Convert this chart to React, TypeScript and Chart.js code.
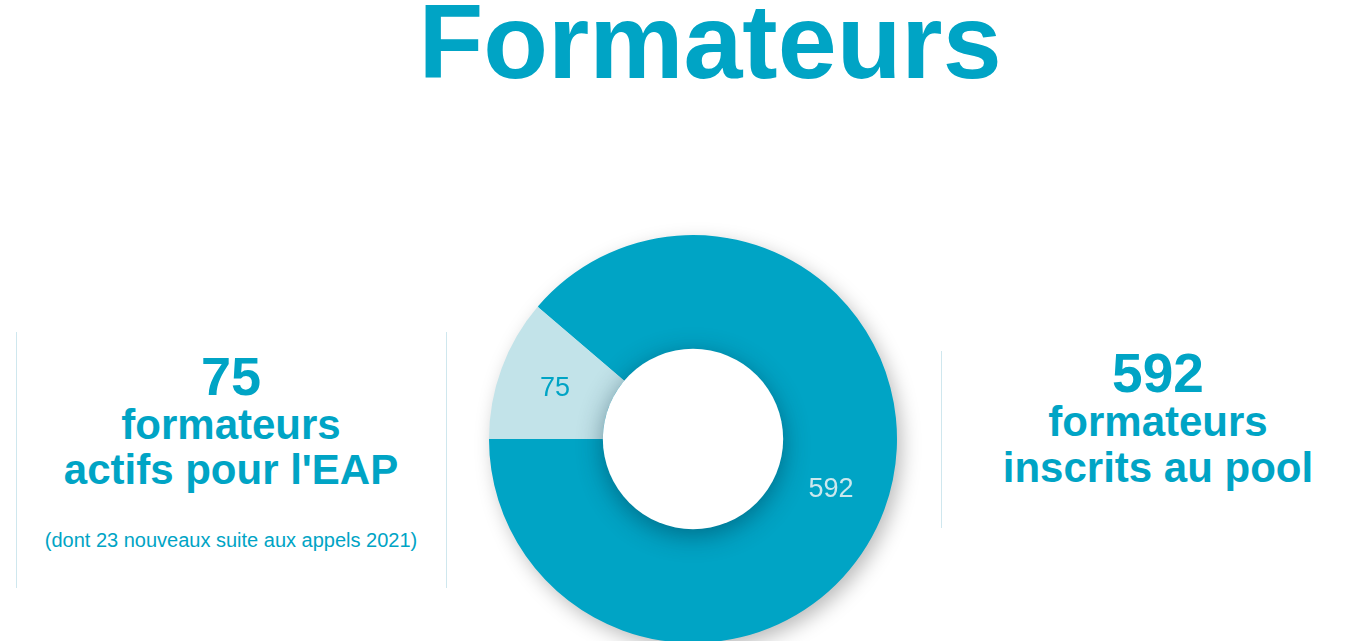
import React, { useEffect, useRef } from "react";
import { Chart, registerables } from "chart.js";

Chart.register(...registerables);

const categories = ["formateurs actifs pour l'EAP", "formateurs inscrits au pool"];
const values = [75, 592];
const sliceColors = ["#c2e3e9", "#00a4c5"];
const sliceLabelColors = ["#00a4c5", "#cbe8ee"];

const titleText = "Formateurs";
const leftLines = ["75", "formateurs", "actifs pour l'EAP"];
const leftNote = "(dont 23 nouveaux suite aux appels 2021)";
const rightLines = ["592", "formateurs", "inscrits au pool"];

const TEAL = "#00a4c5";
const FONT = "'Liberation Sans', Arial, Helvetica, sans-serif";

const ringPlugin = {
  id: "ringDecor",
  beforeDatasetsDraw(chart: any) {
    const meta = chart.getDatasetMeta(0);
    const arc = meta.data[0];
    if (!arc) return;
    const p = arc.getProps(["x", "y", "outerRadius"], true);
    const ctx = chart.ctx;
    ctx.save();
    ctx.shadowColor = "rgba(0,0,0,0.28)";
    ctx.shadowBlur = 20;
    ctx.shadowOffsetX = 5;
    ctx.shadowOffsetY = 7;
    ctx.beginPath();
    ctx.arc(p.x, p.y, p.outerRadius - 1, 0, Math.PI * 2);
    ctx.fillStyle = sliceColors[1];
    ctx.fill();
    ctx.restore();
  },
  afterDatasetsDraw(chart: any) {
    const meta = chart.getDatasetMeta(0);
    const arc0 = meta.data[0];
    if (!arc0) return;
    const p = arc0.getProps(["x", "y", "innerRadius"], true);
    const ctx = chart.ctx;
    ctx.save();
    ctx.shadowColor = "rgba(0,40,60,0.45)";
    ctx.shadowBlur = 26;
    ctx.shadowOffsetX = 0;
    ctx.shadowOffsetY = 6;
    ctx.beginPath();
    ctx.arc(p.x, p.y, p.innerRadius, 0, Math.PI * 2);
    ctx.fillStyle = "#ffffff";
    ctx.fill();
    ctx.restore();
    ctx.save();
    ctx.font = `27px ${FONT}`;
    ctx.textAlign = "center";
    ctx.textBaseline = "middle";
    meta.data.forEach((el: any, i: number) => {
      const pos = el.tooltipPosition(true);
      ctx.fillStyle = sliceLabelColors[i];
      ctx.fillText(String(values[i]), pos.x, pos.y);
    });
    ctx.restore();
  },
};

function TextLine(props: { text: string; cx: number; top: number; size: number; bold?: boolean; width: number }) {
  const { text, cx, top, size, bold, width } = props;
  return (
    <div
      style={{
        position: "absolute",
        left: cx - width / 2,
        top,
        width,
        textAlign: "center",
        fontFamily: FONT,
        fontSize: size,
        lineHeight: `${size}px`,
        fontWeight: bold ? 700 : 400,
        color: TEAL,
        whiteSpace: "nowrap",
      }}
    >
      {text}
    </div>
  );
}

export default function App() {
  const canvasRef = useRef<HTMLCanvasElement | null>(null);

  useEffect(() => {
    if (!canvasRef.current) return;
    const chart = new Chart(canvasRef.current, {
      type: "doughnut",
      data: {
        labels: categories,
        datasets: [
          {
            data: values,
            backgroundColor: sliceColors,
            borderWidth: 0,
            hoverOffset: 0,
            offset: 0,
          },
        ],
      },
      options: {
        responsive: false,
        animation: false,
        rotation: 270,
        cutout: "44.2%",
        layout: { padding: 36 },
        plugins: {
          legend: { display: false },
          tooltip: { enabled: false },
        },
        events: [],
      },
      plugins: [ringPlugin],
    });
    return () => chart.destroy();
  }, []);

  return (
    <div
      style={{
        position: "fixed",
        left: 0,
        top: 0,
        width: 1364,
        height: 641,
        overflow: "hidden",
        background: "#ffffff",
      }}
    >
      <TextLine text={titleText} cx={710} top={-12} size={106} bold width={800} />

      <div style={{ position: "absolute", left: 16, top: 332, width: 1, height: 256, background: "#cfe7ee" }} />
      <div style={{ position: "absolute", left: 446, top: 332, width: 1, height: 256, background: "#cfe7ee" }} />
      <div style={{ position: "absolute", left: 941, top: 351, width: 1, height: 177, background: "#cfe7ee" }} />

      <TextLine text={leftLines[0]} cx={231} top={349} size={54} bold width={420} />
      <TextLine text={leftLines[1]} cx={231} top={404} size={42} bold width={420} />
      <TextLine text={leftLines[2]} cx={231} top={449} size={42} bold width={420} />
      <TextLine text={leftNote} cx={231} top={530} size={20} width={420} />

      <TextLine text={rightLines[0]} cx={1158} top={346} size={55} bold width={400} />
      <TextLine text={rightLines[1]} cx={1158} top={401} size={42} bold width={400} />
      <TextLine text={rightLines[2]} cx={1158} top={447} size={42} bold width={400} />

      <canvas
        ref={canvasRef}
        width={480}
        height={480}
        style={{ position: "absolute", left: 453, top: 199, width: 480, height: 480 }}
      />
    </div>
  );
}
